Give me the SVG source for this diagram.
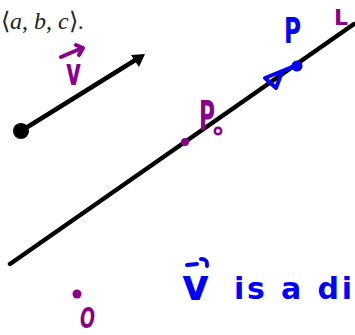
<svg xmlns="http://www.w3.org/2000/svg" width="355" height="335" viewBox="0 0 355 335">
  <style>
    .hand { font-family: "DejaVu Sans", "Liberation Sans", sans-serif; font-weight: bold; }
    .purple { fill: #8B008B; }
    .blue { fill: #0000FF; }
    .pstroke { fill: none; stroke: #8B008B; stroke-width: 4; stroke-linecap: round; stroke-linejoin: round; }
    .bstroke { fill: none; stroke: #0000FF; stroke-width: 4; stroke-linecap: round; stroke-linejoin: round; }
    .black { stroke: #000; stroke-width: 4.5; stroke-linecap: round; fill: none; }
  </style>
  <rect width="355" height="335" fill="#fff"/>

  <g id="title">
    <text x="1" y="29" font-family="'Liberation Serif', serif" font-size="24" fill="#222">⟨<tspan font-style="italic">a</tspan>, <tspan font-style="italic">b</tspan>, <tspan font-style="italic">c</tspan>⟩.</text>
  </g>

  <g id="connectors">
    <line class="black" x1="21" y1="131" x2="137" y2="59"/>
    <polygon points="145,54 131,55 139,67" fill="#000"/>
    <line class="black" x1="10" y1="264" x2="354" y2="24"/>
  </g>

  <g id="start-point">
    <circle cx="21" cy="131" r="8" fill="#000"/>
  </g>

  <g id="v-label">
    <path class="pstroke" d="M61,57 L82,48 M76,45 L83,48 L79,55"/>
    <text class="hand purple" x="66" y="85" font-size="38" textLength="15" lengthAdjust="spacingAndGlyphs">v</text>
  </g>

  <g id="P0">
    <circle cx="185" cy="142" r="4" fill="#8B008B"/>
    <text class="hand purple" x="199" y="130" font-size="40" textLength="16" lengthAdjust="spacingAndGlyphs">P</text>
    <circle cx="218" cy="131" r="3.2" fill="none" stroke="#8B008B" stroke-width="2.5"/>
  </g>

  <g id="P">
    <circle cx="297" cy="66" r="5.5" fill="#0000FF"/>
    <path class="bstroke" d="M265,78 L292,67 M265,78 L276,88 L282,72"/>
    <text class="hand blue" x="284" y="43" font-size="36" textLength="17" lengthAdjust="spacingAndGlyphs">P</text>
  </g>

  <g id="L-label">
    <text class="hand purple" x="334" y="25" font-size="21" textLength="14" lengthAdjust="spacingAndGlyphs">L</text>
  </g>

  <g id="origin">
    <circle cx="77" cy="294" r="4.5" fill="#8B008B"/>
    <text class="hand purple" x="80" y="328" font-size="28" font-style="italic" textLength="15" lengthAdjust="spacingAndGlyphs">O</text>
  </g>

  <g id="note">
    <path class="bstroke" d="M187,265 L197,264 M201,259 Q208,259 207,266"/>
    <text class="hand blue" x="182" y="300" font-size="44" textLength="27" lengthAdjust="spacingAndGlyphs">v</text>
    <text class="hand blue" x="234" y="299" font-size="30" textLength="118" lengthAdjust="spacing">is a di</text>
  </g>
</svg>
